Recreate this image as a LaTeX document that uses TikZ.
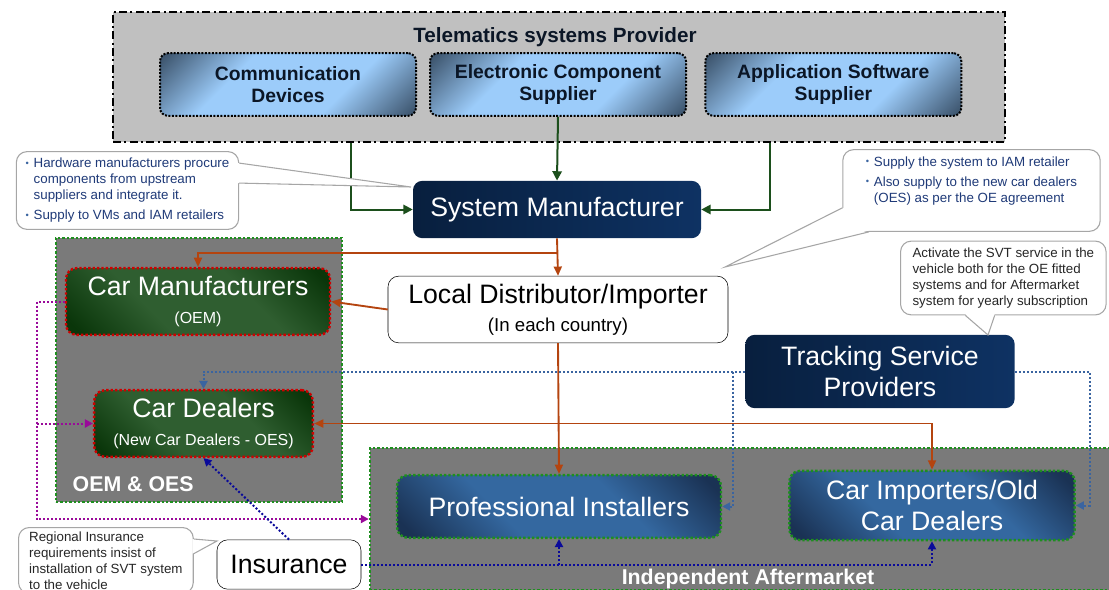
\documentclass[tikz,border=0pt]{standalone}
\usepackage{fontspec}
\setmainfont{Liberation Sans}
\usetikzlibrary{arrows.meta,positioning,calc}
\definecolor{provgray}{HTML}{C0C0C0}
\definecolor{suplight}{HTML}{9CCCFA}
\definecolor{supdark}{HTML}{3E566F}
\definecolor{suptext}{HTML}{0B1626}
\definecolor{navydark}{HTML}{081F3E}
\definecolor{navylight}{HTML}{0E3263}
\definecolor{groupgray}{HTML}{7A7A7A}
\definecolor{dotgreen}{HTML}{1E8F1E}
\definecolor{oemred}{HTML}{D00000}
\definecolor{oemdark}{HTML}{0A360A}
\definecolor{oemlight}{HTML}{2F5E30}
\definecolor{iamdark}{HTML}{1A3254}
\definecolor{iamlight}{HTML}{3468A0}
\definecolor{provgreen}{HTML}{1C4F1C}
\definecolor{supplyorange}{HTML}{B4440F}
\definecolor{trackblue}{HTML}{3A64A0}
\definecolor{oempurple}{HTML}{9A0A9A}
\definecolor{insnavy}{HTML}{0A0A9A}
\definecolor{notegray}{HTML}{A6A6A6}
\definecolor{noteblue}{HTML}{1F3A78}
\definecolor{notedark}{HTML}{262626}
\pgfdeclareverticalshading{supshade}{100bp}{color(0bp)=(supdark); color(16bp)=(supdark); color(36bp)=(suplight); color(64bp)=(suplight); color(84bp)=(supdark); color(100bp)=(supdark)}
\pgfdeclareverticalshading{oemshade}{100bp}{color(0bp)=(oemdark); color(18bp)=(oemdark); color(38bp)=(oemlight); color(62bp)=(oemlight); color(82bp)=(oemdark); color(100bp)=(oemdark)}
\pgfdeclareverticalshading{iamshade}{100bp}{color(0bp)=(iamdark); color(18bp)=(iamdark); color(38bp)=(iamlight); color(62bp)=(iamlight); color(82bp)=(iamdark); color(100bp)=(iamdark)}
\newcommand{\notebullet}{\makebox[6pt][l]{\raisebox{1pt}{\fontsize{7}{7}\selectfont\textcolor{trackblue}{•}}}}
\newcommand{\subfont}{\fontsize{12}{14}\selectfont}
\tikzset{
  provgroup/.style={draw=black, line width=1.2pt, dash pattern=on 6pt off 2.5pt on 1.5pt off 2.5pt, fill=provgray, inner sep=0pt},
  provtitle/.style={font=\fontsize{15.5}{18}\selectfont\bfseries, text=suptext},
  supbox/.style={draw=black, line width=1.5pt, dash pattern=on 1.5pt off 1.1pt, rounded corners=6pt, shade, shading=supshade, shading angle=45, minimum width=192pt, minimum height=47pt, align=center, font=\fontsize{14.5}{17}\selectfont\bfseries, text=suptext},
  navybox/.style={rounded corners=7pt, left color=navydark, right color=navylight, text=white, align=center, font=\fontsize{20}{23}\selectfont},
  oembox/.style={draw=oemred, line width=1.8pt, dash pattern=on 1.8pt off 1.5pt, rounded corners=8pt, shade, shading=oemshade, shading angle=-45, text=white, align=center, font=\fontsize{20}{21}\selectfont},
  iambox/.style={draw=dotgreen, line width=1.8pt, dash pattern=on 1.8pt off 1.5pt, rounded corners=8pt, shade, shading=iamshade, shading angle=-45, text=white, align=center, font=\fontsize{20}{23}\selectfont},
  whitebox/.style={draw=black, fill=white, rounded corners=8pt, align=center, font=\fontsize{20}{21}\selectfont},
  groupbox/.style={draw=dotgreen, line width=1.8pt, dash pattern=on 1.8pt off 1.5pt, fill=groupgray, inner sep=0pt},
  grouplabel/.style={text=white, font=\fontsize{16}{18}\selectfont\bfseries},
  notebox/.style={draw=notegray, line width=0.8pt, fill=white, rounded corners=8pt, align=left, font=\fontsize{10}{12}\selectfont, inner xsep=7pt, inner ysep=5pt},
  noteline/.style={draw=notegray, line width=0.8pt},
  greenarrow/.style={-{Triangle[length=7pt,width=7pt]}, draw=provgreen, line width=1.5pt},
  supplyarrow/.style={-{Triangle[length=7pt,width=6pt]}, draw=supplyorange, line width=1.4pt},
  trackarrow/.style={-{Triangle[length=6pt,width=6pt]}, draw=trackblue, line width=1.5pt, dash pattern=on 1.5pt off 1.5pt},
  oemarrow/.style={-{Triangle[length=6pt,width=6pt]}, draw=oempurple, line width=1.5pt, dash pattern=on 1.5pt off 1.5pt},
  insarrow/.style={-{Triangle[length=6pt,width=6pt]}, draw=insnavy, line width=1.5pt, dash pattern=on 1.5pt off 1.5pt}
}
\begin{document}
\begin{tikzpicture}[x=0.75pt, y=-0.75pt]
\useasboundingbox (0,0) rectangle (1109,589);
\clip (0,0) rectangle (1109,589);
% groups
\node[provgroup, minimum width=669pt, minimum height=97.5pt] (provider) at (559,77) {};
\node[provtitle] (provname) at (555,37) {Telematics systems Provider};
\node[supbox] (commdev) at (288,84.5) {Communication\\Devices};
\node[supbox, right=9pt of commdev] (elecsup) {Electronic Component\\Supplier};
\node[supbox, right=13pt of elecsup] (appsup) {Application Software\\Supplier};
\node[groupbox, minimum width=214.5pt, minimum height=198pt] (oemgroup) at (199,370) {};
\node[grouplabel, anchor=west] (oemname) at (68,484) {OEM \& OES};
\node[groupbox, minimum width=562.5pt, minimum height=106.5pt] (iamgroup) at (745,519) {};
\node[grouplabel] (iamname) at (748,579) {Independent Aftermarket};
% players
\node[navybox, minimum width=216pt, minimum height=43pt] (sysman) at (557,209.5) {System Manufacturer};
\node[oembox, minimum width=198pt, minimum height=50pt] (carman) at (198,301.5) {Car Manufacturers\\{\subfont (OEM)}};
\node[oembox, minimum width=164pt, minimum height=50pt] (cardeal) at (203.5,423.5) {Car Dealers\\{\subfont (New Car Dealers - OES)}};
\node[whitebox, minimum width=255pt, minimum height=50pt] (locdist) at (558,309.5) {Local Distributor/Importer\\{\fontsize{14}{16}\selectfont (In each country)}};
\node[navybox, minimum width=202pt, minimum height=55pt] (tracking) at (880,371.5) {Tracking Service\\Providers};
\node[iambox, minimum width=243pt, minimum height=47pt] (profinst) at (559,506.5) {Professional Installers};
\node[iambox, minimum width=214pt, minimum height=52pt] (carimp) at (932,505.5) {Car Importers/Old\\Car Dealers};
\node[whitebox, minimum width=108pt, minimum height=37pt] (insur) at (289,564.5) {Insurance};
% supply chain
\draw[greenarrow] ([xshift=-49.5pt]commdev.south east |- provider.south) |- (sysman.west);
\draw[greenarrow] (elecsup.south) -- (sysman.north);
\draw[greenarrow] ([xshift=49pt]appsup.south west |- provider.south) |- (sysman.east);
\draw[supplyarrow] (sysman.south) -- (locdist.north);
\draw[supplyarrow] ($(sysman.south)!0.4!(sysman.south |- locdist.north)$) -| (carman.north);
\draw[supplyarrow] (locdist.west) -- (carman.east);
\draw[supplyarrow] (locdist.south) -- (profinst.north);
\coordinate (split) at (locdist.south |- cardeal.east);
\draw[supplyarrow] (split) -- (cardeal.east);
\draw[supplyarrow] (split) -| (carimp.north);
% tracking service
\draw[trackarrow] (tracking.west) -| (cardeal.north);
\draw[trackarrow] ([xshift=-9pt]tracking.west) |- (profinst.east);
\draw[trackarrow] (tracking.east) -- ([xshift=56pt]tracking.east) |- (carimp.east);
% oem loop
\coordinate (oemloop) at ([xshift=-21pt]carman.west);
\draw[oemarrow] (carman.west) -- (oemloop) |- (iamgroup.west);
\draw[oemarrow] (oemloop |- cardeal.west) -- (cardeal.west);
% insurance
\draw[insarrow] (insur.north) -- (cardeal.south);
\draw[insarrow] (insur.east) -| (carimp.south);
\draw[insarrow] (insur.east -| profinst.south) -- (profinst.south);
% notes
\node[notebox, text=noteblue, minimum height=58pt] (hwnote) at (127.5,190.5) {\notebullet Hardware manufacturers procure\\\hspace*{6pt}components from upstream\\\hspace*{6pt}suppliers and integrate it.\\[3pt]\notebullet Supply to VMs and IAM retailers};
\coordinate (hwtip) at (411,187);
\fill[white] ([shift={(-1pt,-9pt)}]hwnote.north east) -- (hwtip) -- ([shift={(-1pt,-24pt)}]hwnote.north east) -- cycle;
\draw[noteline] ([yshift=-9pt]hwnote.north east) -- (hwtip) -- ([yshift=-24pt]hwnote.north east);
\node[notebox, text=noteblue, minimum width=193pt, minimum height=58pt] (ldnote) at (971.5,190.5) {\notebullet Supply the system to IAM retailer\\[3pt]\notebullet Also supply to the new car dealers\\\hspace*{6pt}(OES) as per the OE agreement\\[5pt]\mbox{}};
\coordinate (ldtip) at (725,267);
\fill[white] ([shift={(1pt,18pt)}]ldnote.south west) -- (ldtip) -- ([shift={(20pt,1pt)}]ldnote.south west) -- cycle;
\draw[noteline] ([yshift=18pt]ldnote.south west) -- (ldtip) -- ([xshift=20pt]ldnote.south west);
\node[notebox, text=notedark, anchor=west, inner xsep=9pt] (svtnote) at (900,278) {Activate the SVT service in the\\vehicle both for the OE fitted\\systems and for Aftermarket\\system for yearly subscription};
\coordinate (svttip) at (988,335);
\fill[white] ([shift={(49pt,1pt)}]svtnote.south west) -- (svttip) -- ([shift={(71pt,1pt)}]svtnote.south west) -- cycle;
\draw[noteline] ([xshift=49pt]svtnote.south west) -- (svttip) -- ([xshift=71pt]svtnote.south west);
\node[notebox, text=notedark, anchor=north west, inner xsep=8pt, inner ysep=3pt] (insnote) at (18,527) {Regional Insurance\\requirements insist of\\installation of SVT system\\to the vehicle};
\coordinate (instip) at (217,541);
\fill[white] ([shift={(-1pt,-9pt)}]insnote.north east) -- (instip) -- ([shift={(-1pt,-20pt)}]insnote.north east) -- cycle;
\draw[noteline] ([yshift=-9pt]insnote.north east) -- (instip) -- ([yshift=-20pt]insnote.north east);
\end{tikzpicture}
\end{document}
